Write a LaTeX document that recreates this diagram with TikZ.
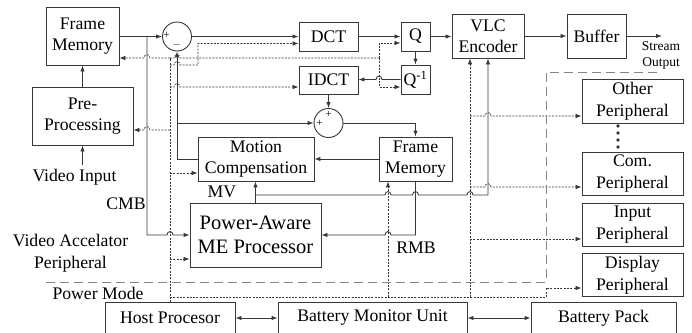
\documentclass[tikz,border=0pt]{standalone}
\usepackage{fontspec}
\setmainfont{Liberation Serif}
\usetikzlibrary{positioning, arrows.meta, calc}
\usepackage{xcolor}
\definecolor{blkline}{HTML}{383838}
\definecolor{bndgray}{HTML}{858585}
\newcommand{\hopr}[2]{-- ({#1-3},#2) .. controls ({#1-3},{#2-4.5}) and ({#1+3},{#2-4.5}) .. ({#1+3},#2)}
\newcommand{\hopl}[2]{-- ({#1+3},#2) .. controls ({#1+3},{#2-4.5}) and ({#1-3},{#2-4.5}) .. ({#1-3},#2)}

\begin{document}
\begin{tikzpicture}[x=1pt, y=-1pt, font=\fontsize{17.7}{21.5}\selectfont,
    blk/.style={draw=blkline, line width=0.9pt, align=center, inner sep=0pt},
    sumc/.style={draw=blkline, line width=0.9pt, circle, minimum size=29pt, inner sep=0pt},
    sgn/.style={inner sep=0pt, font=\fontsize{11}{11}\selectfont},
    arr/.style={-{Latex[length=6pt,width=4.5pt]}},
    dbl/.style={{Latex[length=6pt,width=4.5pt]}-{Latex[length=6pt,width=4.5pt]}},
    sig/.style={draw=blkline, line width=0.9pt},
    ctl/.style={draw=blkline, line width=0.7pt, dash pattern=on 2pt off 1.3pt},
    bound/.style={draw=bndgray, line width=1pt, dash pattern=on 9pt off 5pt},
    lbl/.style={align=center, inner sep=0pt}]
    \useasboundingbox (0,0) rectangle (692,332);
    % ENCODER BLOCKS
    \node[blk, minimum width=73pt, minimum height=58pt] (fmem) at (82.5,36) {Frame\\Memory};
    \node[blk, minimum width=101pt, minimum height=58pt] (prep) at (82.5,116) {Pre-\\Processing};
    \node[sumc] (sub) at (177,36.5) {};
    \node[sgn] (subp) at (166.5,35) {+};
    \node[sgn] (subm) at (177,44.5) {$-$};
    \node[blk, minimum width=59pt, minimum height=29pt] (dct) at (328.5,36.5) {DCT};
    \node[blk, minimum width=29pt, minimum height=29pt] (q) at (415.5,36.5) {Q};
    \node[blk, minimum width=29pt, minimum height=29pt] (qinv) at (415.5,79.5) {Q\textsuperscript{-1}};
    \node[blk, minimum width=59pt, minimum height=28pt] (idct) at (328.5,80) {IDCT};
    \node[sumc] (add) at (328.5,123) {};
    \node[sgn] (addp1) at (328.5,114.5) {+};
    \node[sgn] (addp2) at (319.5,123.5) {+};
    \node[blk, minimum width=116pt, minimum height=44pt] (mc) at (256,159) {Motion\\Compensation};
    \node[blk, minimum width=73pt, minimum height=44pt] (fmem2) at (415.5,159) {Frame\\Memory};
    \node[blk, minimum width=131pt, minimum height=64pt, font=\fontsize{20.5}{24}\selectfont] (me) at (255.5,235) {Power-Aware\\ME Processor};
    \node[blk, minimum width=72pt, minimum height=44pt] (vlc) at (488,36) {VLC\\Encoder};
    \node[blk, minimum width=59pt, minimum height=44pt] (buf) at (596.5,36) {Buffer};
    % PERIPHERALS
    \node[blk, minimum width=101pt, minimum height=44pt] (other) at (632.5,101) {Other\\Peripheral};
    \node[blk, minimum width=101pt, minimum height=43pt] (com) at (632.5,173.5) {Com.\\Peripheral};
    \node[blk, minimum width=101pt, minimum height=43pt] (inp) at (632.5,224.5) {Input\\Peripheral};
    \node[blk, minimum width=101pt, minimum height=43pt] (disp) at (632.5,275) {Display\\Peripheral};
    \foreach \yy in {126,133,140,147}
      \fill[blkline] (618,\yy) circle[radius=1.9];
    % HOST SIDE
    \node[blk, minimum width=130pt, minimum height=30.5pt] (host) at (170,318) {Host Procesor};
    \node[blk, minimum width=189pt, minimum height=30.5pt] (bmu) at (372.5,318) {Battery Monitor Unit};
    \node[blk, minimum width=145pt, minimum height=30.5pt] (bpack) at (603.5,318) {Battery Pack};
    \draw[sig,dbl] (host.east) -- (bmu.west);
    \draw[sig,dbl] (bmu.east) -- (bpack.west);
    % LABELS
    \node[lbl] (vinlbl) at (74.5,177) {Video Input};
    \node[lbl] (cmblbl) at (126,204) {CMB};
    \node[lbl] (mvlbl) at (222,192) {MV};
    \node[lbl] (rmblbl) at (416,248) {RMB};
    \node[lbl] (vaplbl) at (70.5,253) {Video Accelator\\Peripheral};
    \node[lbl] (pmlbl) at (98,293) {Power Mode};
    \node[lbl, font=\fontsize{13.5}{15.6}\selectfont] (strmlbl) at (661,55.5) {Stream\\Output};
    % FORWARD PATH
    \coordinate (vin) at (82.5,165);
    \draw[sig,arr] (vin) -- (prep.south);
    \draw[sig,arr] (prep.north) -- (fmem.south);
    \draw[sig,arr] (fmem.east |- sub.west) -- (sub.west);
    \draw[sig,arr] (sub.east) -- (dct.west |- sub.east);
    \draw[sig,arr] (dct.east) -- (q.west);
    \draw[sig,arr] (q.east) -- (vlc.west |- q.east);
    \draw[sig,arr] (vlc.east) -- (buf.west);
    \coordinate (strm) at (662,36);
    \draw[sig,arr] (buf.east) -- (strm);
    % RECONSTRUCTION LOOP
    \draw[sig,arr] (q.south) -- (qinv.north);
    \draw[sig,arr] (qinv.west) \hopl{379}{79.5} -- (idct.east |- qinv.west);
    \draw[sig,arr] (idct.south) -- (add.north);
    \draw[sig,arr] (add.east) -| (fmem2.north);
    \draw[sig,arr] (fmem2.west) -- (mc.east);
    \draw[sig,arr] (mc.west) -| (sub.south);
    \draw[sig,arr] (sub.south |- add.west) -- (add.west);
    % MOTION ESTIMATION
    \coordinate (cmbj) at (147,36.5);
    \draw[sig,arr] (cmbj) -- (cmbj |- me.west) \hopr{170}{235} -- (me.west);
    \draw[sig,arr] (me.north) -- (me.north |- mc.south);
    \coordinate (mvj) at (255.5,195);
    \draw[sig,arr] (mvj) \hopr{388}{195} \hopr{415.5}{195} \hopr{470}{195} -| (vlc.south);
    \draw[sig,arr] (fmem2.south) -- (fmem2.south |- me.east) \hopl{388}{235} -- (me.east);
    % CONTROL BUS
    \coordinate (ctl) at (170,58);
    \draw[ctl] (host.north) -- (ctl);
    \draw[ctl,arr] (ctl) \hopl{147}{58} -- (fmem.east |- ctl);
    \coordinate (qbus) at (379,58);
    \draw[ctl] (ctl) \hopr{177}{58} -- (qbus);
    \draw[ctl,arr] (qbus) |- ($(q.west)+(0,6.5)$);
    \draw[ctl,arr] (qbus) |- ($(qinv.west)+(0,7.5)$);
    \draw[ctl,arr] (170,65) \hopr{177}{65} -- (198,65) |- ($(dct.west)+(0,7)$);
    \draw[ctl,arr] (170,87) \hopr{177}{87} -- ($(idct.west)+(0,7)$);
    \draw[ctl,arr] (170,130) \hopl{147}{130} -- ($(prep.east)+(0,14)$);
    \draw[ctl,arr] (170,173) -- ($(mc.west)+(0,14)$);
    \draw[ctl,arr] (170,259) -- ($(me.west)+(0,24)$);
    % POWER MODE
    \coordinate (pm) at (170,297);
    \draw[ctl,arr] (pm) -- (546,297) |- ($(disp.west)+(0,13)$);
    \coordinate (b388) at (388,297);
    \draw[ctl,arr] (b388) -- (b388 |- fmem2.south);
    \coordinate (b470) at (470,297);
    \draw[ctl,arr] (b470) -- (b470 |- vlc.south);
    \draw[ctl,arr] (470,116) \hopr{488}{116} -- ($(other.west)+(0,15)$);
    \draw[ctl,arr] (470,187) \hopr{488}{187} -- ($(com.west)+(0,13.5)$);
    \draw[ctl,arr] (470,239) -- ($(inp.west)+(0,14.5)$);
    % ACCELERATOR BOUNDARY
    \draw[bound] (46,282) -- (546,282) -- (546,72) -- (657,72);
\end{tikzpicture}
\end{document}
